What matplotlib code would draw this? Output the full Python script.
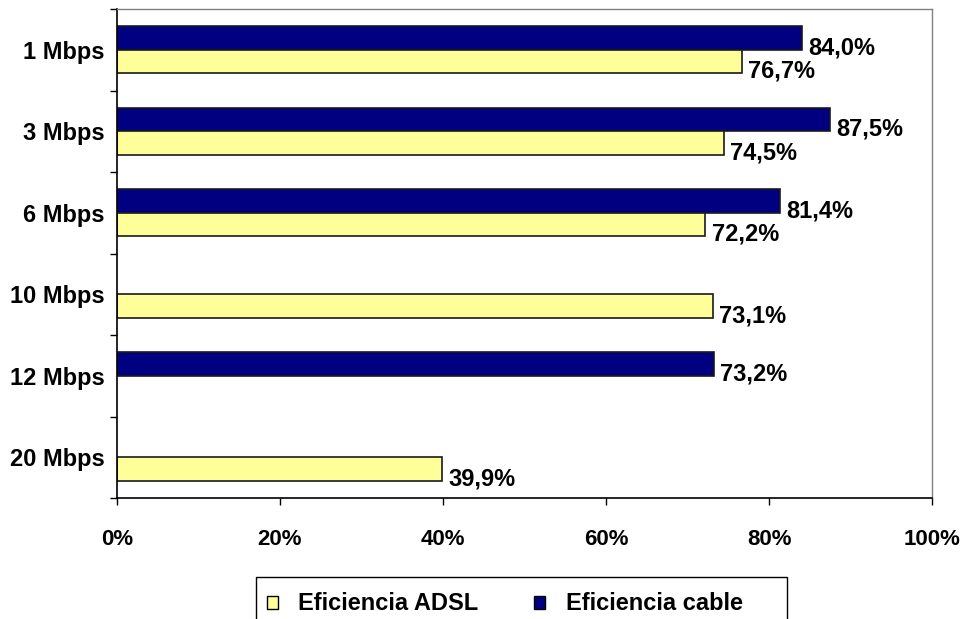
import numpy as np
import matplotlib.pyplot as plt
from matplotlib.patches import Patch, Rectangle
from matplotlib.ticker import FixedLocator, PercentFormatter

plt.rcParams['font.family'] = ['Liberation Sans', 'DejaVu Sans']
plt.rcParams['font.weight'] = 'bold'

# datos: eficiencia por velocidad contratada (None = sin dato)
velocidades = ['1 Mbps', '3 Mbps', '6 Mbps', '10 Mbps', '12 Mbps', '20 Mbps']
eficiencia_adsl = [76.7, 74.5, 72.2, 73.1, None, 39.9]
eficiencia_cable = [84.0, 87.5, 81.4, None, 73.2, None]

color_adsl = '#FFFF99'
color_cable = '#000080'
tam = 17

fig = plt.figure(figsize=(9.6, 6.19), dpi=100)
ax = fig.add_axes([117/960, 1 - 498/619, (932 - 117)/960, (498 - 9)/619])

y = np.arange(len(velocidades))
alto = 0.29
desp = 0.145

def barras(valores, offset, color):
    for yi, v in zip(y, valores):
        if v is None:
            continue
        ax.barh(yi + offset, v, height=alto, color=color,
                edgecolor='#1a1a1a', linewidth=1.2)
        etiqueta = f'{v:.1f}%'.replace('.', ',')
        ax.annotate(etiqueta, xy=(v, yi + offset), xytext=(4.5, -7),
                    textcoords='offset points', ha='left', va='center',
                    fontsize=tam, fontweight='bold')

barras(eficiencia_cable, -desp, color_cable)
barras(eficiencia_adsl, desp, color_adsl)

ax.set_xlim(0, 100)
ax.set_ylim(len(velocidades) - 0.5, -0.5)

# eje x
ax.set_xticks(np.arange(0, 101, 20))
ax.xaxis.set_major_formatter(PercentFormatter(decimals=0))
ax.tick_params(axis='x', direction='out', length=5, width=1, pad=17,
               labelsize=16, colors='black')

# eje y: etiquetas en el centro, marcas entre categorias
ax.set_yticks(y)
ax.set_yticklabels(velocidades)
ax.tick_params(axis='y', which='major', length=0, pad=9, labelsize=tam)
ax.yaxis.set_minor_locator(FixedLocator(np.arange(-0.5, len(velocidades), 1)))
ax.tick_params(axis='y', which='minor', direction='out', length=5, width=1)
for lbl in ax.get_xticklabels() + ax.get_yticklabels():
    lbl.set_fontweight('bold')

for lado in ['left', 'bottom']:
    ax.spines[lado].set_color('black')
    ax.spines[lado].set_linewidth(1.2)
for lado in ['top', 'right']:
    ax.spines[lado].set_color('#808080')
    ax.spines[lado].set_linewidth(1)

# leyenda: marco dibujado aparte, abierto por abajo
marco = Rectangle((256/960, -0.02), (787 - 256)/960, 0.02 + (619 - 577)/619,
                  transform=fig.transFigure, fill=False,
                  edgecolor='black', linewidth=1)
fig.patches.append(marco)

handles = [Patch(facecolor=color_adsl, edgecolor='black', linewidth=1),
           Patch(facecolor=color_cable, edgecolor='black', linewidth=1)]
leg = fig.legend(handles, ['Eficiencia ADSL', 'Eficiencia cable'],
                 loc='center left', bbox_to_anchor=(267/960, 1 - 604/619),
                 ncol=2, prop={'weight': 'bold', 'size': tam},
                 frameon=False, borderpad=0, borderaxespad=0,
                 handlelength=0.47, handleheight=0.47, handletextpad=0.85,
                 columnspacing=2.37)

fig.savefig('out.png', dpi=100)
